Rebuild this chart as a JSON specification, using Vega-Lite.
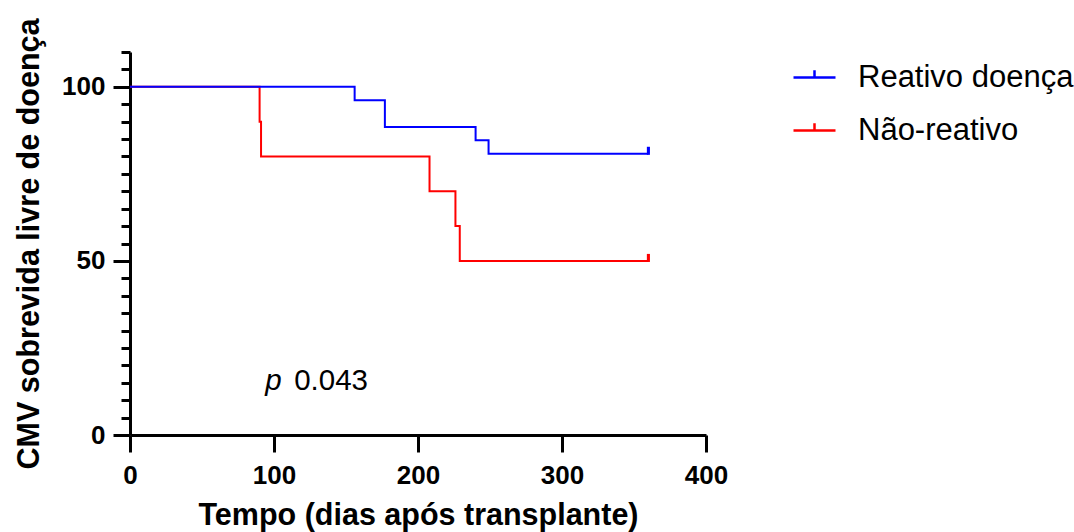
{
  "$schema": "https://vega.github.io/schema/vega-lite/v6.json",
  "autosize": {"type": "none"},
  "padding": {"left": 130, "top": 52, "right": 368, "bottom": 97},
  "width": 576,
  "height": 383,
  "background": "white",
  "config": {
    "view": {"stroke": null},
    "font": "Liberation Sans",
    "axis": {
      "grid": false,
      "domainColor": "black", "domainWidth": 3,
      "tickColor": "black", "tickWidth": 3,
      "labelFontSize": 26, "labelFontWeight": "bold", "labelColor": "black",
      "labelFlush": false, "labelOverlap": false,
      "titleFontSize": 30.5, "titleFontWeight": "bold", "titleColor": "black"
    }
  },
  "datasets": {
    "curves": [
      {"group": "Não-reativo", "time": 0, "surv": 100},
      {"group": "Não-reativo", "time": 90, "surv": 90},
      {"group": "Não-reativo", "time": 91, "surv": 80},
      {"group": "Não-reativo", "time": 208, "surv": 70},
      {"group": "Não-reativo", "time": 226, "surv": 60},
      {"group": "Não-reativo", "time": 229, "surv": 50},
      {"group": "Não-reativo", "time": 360, "surv": 50},
      {"group": "Reativo doença", "time": 0, "surv": 100},
      {"group": "Reativo doença", "time": 156, "surv": 96.15},
      {"group": "Reativo doença", "time": 177, "surv": 88.46},
      {"group": "Reativo doença", "time": 240, "surv": 84.62},
      {"group": "Reativo doença", "time": 249, "surv": 80.77},
      {"group": "Reativo doença", "time": 360, "surv": 80.77}
    ],
    "censored": [
      {"group": "Reativo doença", "time": 360, "surv": 80.77},
      {"group": "Não-reativo", "time": 360, "surv": 50}
    ],
    "annotation": [
      {"label": "p 0.043"}
    ]
  },
  "layer": [
    {
      "data": {"name": "curves"},
      "mark": {"type": "line", "interpolate": "step-after", "strokeWidth": 2},
      "encoding": {
        "x": {
          "field": "time", "type": "quantitative",
          "scale": {"domain": [0, 400], "nice": false, "zero": false},
          "axis": {"title": "Tempo (dias após transplante)", "values": [0, 100, 200, 300, 400], "tickSize": 17, "labelPadding": 10, "titlePadding": 12}
        },
        "y": {
          "field": "surv", "type": "quantitative",
          "scale": {"domain": [0, 110], "nice": false},
          "axis": {
            "title": "CMV sobrevida livre de doença",
            "values": [0, 5, 10, 15, 20, 25, 30, 35, 40, 45, 50, 55, 60, 65, 70, 75, 80, 85, 90, 95, 100, 105, 110],
            "labelExpr": "datum.value % 50 === 0 ? datum.label : ''",
            "tickSize": {"condition": {"test": "datum.value % 50 === 0", "value": 17}, "value": 9},
            "labelPadding": 8, "titlePadding": 17
          }
        },
        "color": {
          "field": "group", "type": "nominal",
          "scale": {"domain": ["Reativo doença", "Não-reativo"], "range": ["#0000ff", "#ff0000"]},
          "legend": {
            "title": null,
            "orient": "none",
            "legendX": 662,
            "legendY": 3,
            "symbolType": "M-1,0H1M0,0V-0.35",
            "symbolSize": 1764,
            "symbolStrokeWidth": 2.5,
            "labelFontSize": 31,
            "labelColor": "black",
            "labelOffset": 21,
            "labelLimit": 0,
            "rowPadding": 15,
            "padding": 0
          }
        },
        "order": {"field": "group", "sort": "ascending"}
      }
    },
    {
      "data": {"name": "censored"},
      "mark": {"type": "point", "shape": "M-0.22,0.15H0.22V-1H-0.22Z", "filled": true, "size": 196, "opacity": 1},
      "encoding": {
        "x": {"field": "time", "type": "quantitative", "axis": {"title": "Tempo (dias após transplante)", "values": [0, 100, 200, 300, 400], "tickSize": 17, "labelPadding": 10, "titlePadding": 12}},
        "y": {"field": "surv", "type": "quantitative", "axis": {
            "title": "CMV sobrevida livre de doença",
            "values": [0, 5, 10, 15, 20, 25, 30, 35, 40, 45, 50, 55, 60, 65, 70, 75, 80, 85, 90, 95, 100, 105, 110],
            "labelExpr": "datum.value % 50 === 0 ? datum.label : ''",
            "tickSize": {"condition": {"test": "datum.value % 50 === 0", "value": 17}, "value": 9},
            "labelPadding": 8, "titlePadding": 17
          }},
        "color": {"field": "group", "type": "nominal", "legend": null}
      }
    },
    {
      "data": {"name": "annotation"},
      "mark": {"type": "text", "text": "p", "fontStyle": "italic", "fontSize": 29.5, "align": "left", "baseline": "alphabetic", "color": "black"},
      "encoding": {
        "x": {"datum": 94, "type": "quantitative", "axis": {"title": "Tempo (dias após transplante)", "values": [0, 100, 200, 300, 400], "tickSize": 17, "labelPadding": 10, "titlePadding": 12}},
        "y": {"datum": 13, "type": "quantitative", "axis": {
            "title": "CMV sobrevida livre de doença",
            "values": [0, 5, 10, 15, 20, 25, 30, 35, 40, 45, 50, 55, 60, 65, 70, 75, 80, 85, 90, 95, 100, 105, 110],
            "labelExpr": "datum.value % 50 === 0 ? datum.label : ''",
            "tickSize": {"condition": {"test": "datum.value % 50 === 0", "value": 17}, "value": 9},
            "labelPadding": 8, "titlePadding": 17
          }}
      }
    },
    {
      "data": {"name": "annotation"},
      "mark": {"type": "text", "text": "0.043", "fontSize": 29.5, "align": "left", "baseline": "alphabetic", "color": "black"},
      "encoding": {
        "x": {"datum": 114, "type": "quantitative", "axis": {"title": "Tempo (dias após transplante)", "values": [0, 100, 200, 300, 400], "tickSize": 17, "labelPadding": 10, "titlePadding": 12}},
        "y": {"datum": 13, "type": "quantitative", "axis": {
            "title": "CMV sobrevida livre de doença",
            "values": [0, 5, 10, 15, 20, 25, 30, 35, 40, 45, 50, 55, 60, 65, 70, 75, 80, 85, 90, 95, 100, 105, 110],
            "labelExpr": "datum.value % 50 === 0 ? datum.label : ''",
            "tickSize": {"condition": {"test": "datum.value % 50 === 0", "value": 17}, "value": 9},
            "labelPadding": 8, "titlePadding": 17
          }}
      }
    }
  ]
}
